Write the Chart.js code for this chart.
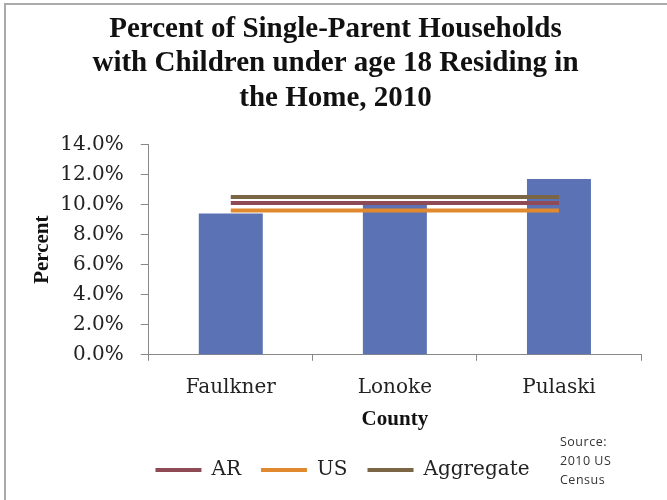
<!DOCTYPE html>
<html>
<head>
<meta charset="utf-8">
<script src="https://cdn.jsdelivr.net/npm/chart.js@4/dist/chart.umd.min.js"></script>
<style>
  html, body { margin: 0; padding: 0; background: #fff; }
  #wrap { position: relative; width: 667px; height: 500px; overflow: hidden; }
  #frame { position: absolute; left: 4px; top: 3px; width: 700px; height: 540px;
           border-left: 2px solid #aaa; border-top: 2px solid #aaa; pointer-events: none; }
  #source { position: absolute; left: 560px; top: 432px; font-family: "Open Sans", sans-serif;
            font-size: 12.5px; line-height: 19px; color: #333; letter-spacing: 0.5px; }
</style>
</head>
<body>
<div id="wrap">
  <canvas id="c" width="667" height="500"></canvas>
  <div id="frame"></div>
  <div id="source">Source:<br>2010 US<br>Census</div>
</div>
<script>
const titleLines = ["Percent of Single-Parent Households", "with Children under age 18 Residing in", "the Home, 2010"];
const counties = ["Faulkner", "Lonoke", "Pulaski"];
const countyValues = [9.4, 10.2, 11.7];
const arValues = [10.1, 10.1, 10.1];
const usValues = [9.6, 9.6, 9.6];
const aggregateValues = [10.5, 10.5, 10.5];
const yTicks = [0, 2, 4, 6, 8, 10, 12, 14];

const serif = "'DejaVu Serif', 'Liberation Serif', serif";

const shiftLegend = {
  id: 'shiftLegend',
  afterLayout(chart) {
    if (chart.legend) { chart.legend.left += 7; chart.legend.right += 7; }
  }
};

new Chart(document.getElementById('c'), {
  type: 'bar',
  plugins: [shiftLegend],
  data: {
    labels: counties,
    datasets: [
      { type: 'line', label: 'AR', data: arValues, borderColor: '#8E4A55', backgroundColor: '#8E4A55',
        borderWidth: 4, pointRadius: 0, order: 0 },
      { type: 'line', label: 'US', data: usValues, borderColor: '#E0892E', backgroundColor: '#E0892E',
        borderWidth: 4, pointRadius: 0, order: 0 },
      { type: 'line', label: 'Aggregate', data: aggregateValues, borderColor: '#7A6545', backgroundColor: '#7A6545',
        borderWidth: 4, pointRadius: 0, order: 0 },
      { type: 'bar', label: 'County', data: countyValues, backgroundColor: '#5B73B4',
        categoryPercentage: 1, barPercentage: 0.39, order: 1 }
    ]
  },
  options: {
    responsive: false,
    animation: false,
    layout: { padding: { top: 12, left: 30, right: 26, bottom: 10 } },
    plugins: {
      tooltip: { enabled: false },
      title: {
        display: true,
        text: titleLines,
        color: '#111',
        font: { family: "'Liberation Serif', serif", size: 29, weight: 'bold', lineHeight: 1.19 },
        padding: { top: 0, bottom: 29 }
      },
      legend: {
        position: 'bottom',
        labels: {
          filter: (item) => item.text !== 'County',
          generateLabels: (chart) => Chart.defaults.plugins.legend.labels.generateLabels(chart)
            .map(l => Object.assign(l, { lineWidth: 0 })),
          boxWidth: 46,
          boxHeight: 4,
          color: '#222',
          font: { family: serif, size: 20 },
          padding: 20
        }
      }
    },
    scales: {
      x: {
        grid: { display: true, drawOnChartArea: false, tickLength: 6, color: '#888' },
        border: { color: '#888' },
        ticks: { color: '#222', font: { family: serif, size: 20 }, padding: 15 },
        title: { display: true, text: 'County', color: '#111',
                 font: { family: "'Liberation Serif', serif", size: 21, weight: 'bold' }, padding: { top: -8, bottom: 8 } }
      },
      y: {
        min: 0, max: 14,
        afterBuildTicks: (axis) => { axis.ticks = yTicks.map(v => ({ value: v })); },
        grid: { display: true, drawOnChartArea: false, tickLength: 8, color: '#888' },
        border: { color: '#888' },
        ticks: { color: '#222', font: { family: serif, size: 20 }, padding: 17,
                 callback: (v) => Number(v).toFixed(1) + '%' },
        title: { display: true, text: 'Percent', color: '#111',
                 font: { family: "'Liberation Serif', serif", size: 21, weight: 'bold' }, padding: { top: 0, bottom: -12 } }
      }
    }
  }
});
</script>
</body>
</html>
